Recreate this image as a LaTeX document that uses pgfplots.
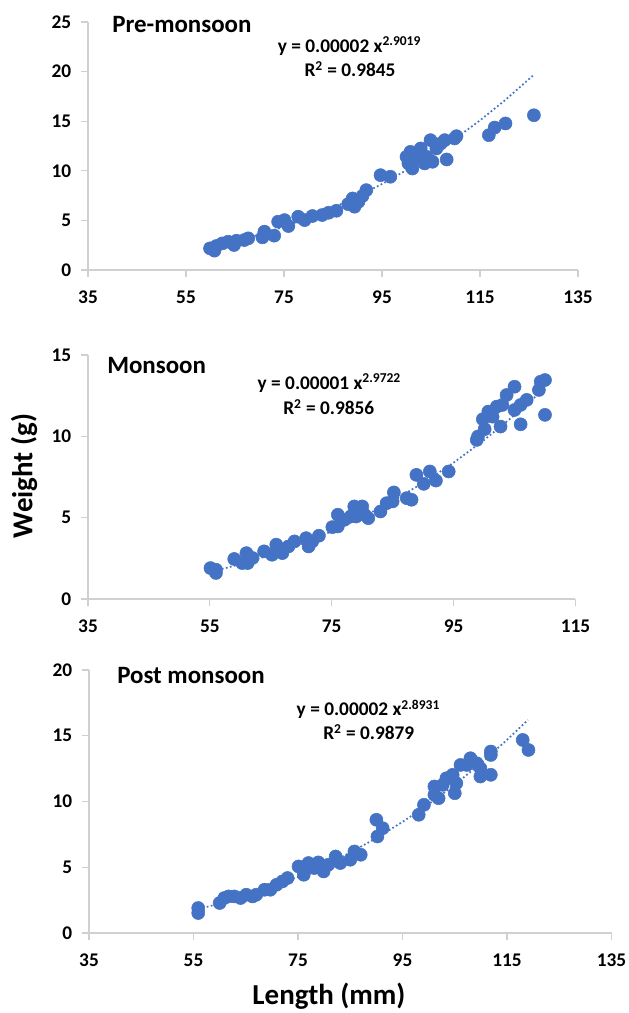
\documentclass[border=0pt]{standalone}
\usepackage{pgfplots}
\pgfplotsset{compat=1.18}
\usepackage{fontspec}
\setmainfont{Carlito}

\definecolor{xlblue}{HTML}{4472C4}
\definecolor{axisgray}{HTML}{D0D0D0}

\pgfplotsset{
  panel/.style={
    scale only axis,
    axis x line*=bottom, axis y line*=left,
    axis line style={-, draw=axisgray, line width=0.8pt},
    every tick/.style={draw=axisgray, line width=0.8pt},
    major tick length=5pt,
    tick align=outside,
    ticklabel style={font=\fontsize{14.5}{16}\selectfont\bfseries},
    xticklabel style={yshift=-7pt},
    yticklabel style={xshift=-4pt},
    /pgf/number format/assume math mode=true,
    xmin=35, ymin=0,
    clip=false,
  },
  pts/.style={only marks, mark=*, mark size=4.9pt,
    mark options={fill=xlblue, draw=xlblue}},
  trend/.style={xlblue, line width=1.3pt, dash pattern=on 1.3pt off 1.8pt, mark=none},
}

\begin{document}
\begin{tikzpicture}
\useasboundingbox (0,0) rectangle (471pt,759.75pt);

% ---------- Pre-monsoon ----------
\begin{axis}[panel, at={(66pt,557.25pt)}, anchor=south west,
  width=367.5pt, height=186pt,
  xmax=135, ymax=25, xtick={35,55,...,135}, ytick={0,5,...,25}]
\addplot[pts] table {
x y
59.9 2.18
60.8 1.95
61.2 2.42
62.4 2.68
63.6 2.85
64.8 2.52
65.3 2.95
66.9 3.02
67.7 3.19
70.6 3.29
71.0 3.86
73.0 3.46
73.8 4.87
75.1 5.03
75.9 4.43
77.9 5.37
79.2 5.03
80.8 5.44
82.8 5.54
84.1 5.77
85.7 5.97
88.1 6.64
89.0 7.21
89.4 6.38
90.2 6.88
91.0 7.45
91.8 8.05
94.7 9.56
96.7 9.40
100.0 11.41
100.4 10.74
100.8 11.91
101.2 10.23
101.6 11.24
102.5 11.74
102.9 12.25
103.7 10.74
104.1 11.41
104.9 13.09
105.3 10.91
106.1 12.25
107.0 12.75
107.8 13.09
108.2 11.14
109.8 13.26
110.2 13.49
116.8 13.59
118.0 14.36
120.2 14.77
126.0 15.60
};
\addplot[trend] table {
x y
60 2.28
65 2.88
70 3.57
75 4.36
80 5.26
85 6.27
90 7.41
95 8.67
100 10.06
105 11.58
110 13.26
115 15.08
120 17.07
126 19.68
};
\end{axis}

% ---------- Monsoon ----------
\begin{axis}[panel, at={(66pt,310.5pt)}, anchor=south west,
  width=365.6pt, height=183pt,
  xmax=115, ymax=15, xtick={35,55,...,115}, ytick={0,5,...,15}]
\addplot[pts] table {
x y
55.1 1.90
56.0 1.80
56.0 1.60
59.0 2.46
60.3 2.21
61.0 2.82
61.2 2.21
62.0 2.52
63.9 2.93
65.2 2.72
65.9 3.34
66.9 2.82
67.9 3.23
68.9 3.54
70.8 3.74
71.2 3.23
71.8 3.54
72.9 3.89
75.1 4.42
76.0 4.46
76.0 5.18
77.1 4.87
78.1 5.07
78.7 5.69
79.0 5.07
80.0 5.69
80.4 5.18
81.0 4.97
83.0 5.38
84.0 5.89
85.0 6.00
85.2 6.55
87.3 6.20
88.1 6.10
88.9 7.63
90.1 7.08
91.1 7.84
92.1 7.28
94.2 7.84
98.8 9.78
99.0 9.99
99.8 11.05
100.1 10.44
100.7 11.52
101.4 11.21
102.1 11.83
102.7 10.60
103.0 11.93
103.7 12.54
105.0 13.05
105.0 11.62
106.0 11.93
106.0 10.74
107.0 12.24
109.0 12.85
109.3 13.36
110.0 13.46
110.0 11.32
};
\addplot[trend] table {
x y
55 1.65
60 2.14
65 2.71
70 3.38
75 4.16
80 5.03
85 6.03
90 7.14
95 8.38
100 9.77
105 11.30
110 12.97
};
\end{axis}

% ---------- Post monsoon ----------
\begin{axis}[panel, at={(66.75pt,60pt)}, anchor=south west,
  width=391.9pt, height=197.25pt,
  xmax=135, ymax=20, xtick={35,55,...,135}, ytick={0,5,...,20}]
\addplot[pts] table {
x y
55.9 1.90
55.9 1.52
60.0 2.28
60.9 2.66
61.7 2.78
62.8 2.78
64.0 2.66
65.1 2.91
66.3 2.78
67.0 2.91
68.6 3.29
69.7 3.29
70.9 3.67
72.0 3.92
73.0 4.18
75.1 5.06
76.1 4.43
77.0 5.32
78.1 4.94
78.9 5.37
79.9 4.68
80.8 5.19
82.2 5.82
83.1 5.32
85.0 5.57
85.8 6.20
87.0 5.95
90.0 8.61
90.2 7.34
91.2 7.97
98.1 8.99
99.1 9.75
101.1 11.14
101.1 10.51
101.9 10.25
102.7 11.27
103.4 11.77
104.6 12.03
105.0 10.63
105.3 11.39
106.1 12.78
107.3 12.78
108.0 13.29
109.2 12.91
109.9 12.53
109.9 11.90
111.9 12.03
111.9 13.54
111.9 13.80
118.0 14.68
119.1 13.92
};
\addplot[trend] table {
x y
56 1.83
60 2.23
65 2.82
70 3.49
75 4.26
80 5.14
85 6.12
90 7.22
95 8.45
100 9.79
105 11.28
110 12.91
115 14.69
119 16.20
};
\end{axis}

% ---------- texts ----------
\begin{scope}[every node/.style={inner sep=0pt}]
\node[anchor=west, font=\fontsize{18.7}{20}\selectfont\bfseries] at (84pt,741.4pt) {Pre-monsoon};
\node[anchor=base, font=\fontsize{14.5}{16}\selectfont\bfseries] at (262.1pt,720.4pt) {y = 0.00002 x\textsuperscript{2.9019}};
\node[anchor=base, font=\fontsize{14.5}{16}\selectfont\bfseries] at (262.5pt,702pt) {R\textsuperscript{2} = 0.9845};

\node[anchor=west, font=\fontsize{18.7}{20}\selectfont\bfseries] at (80.25pt,485.6pt) {Monsoon};
\node[anchor=base, font=\fontsize{14.5}{16}\selectfont\bfseries] at (247pt,467.7pt) {y = 0.00001 x\textsuperscript{2.9722}};
\node[anchor=base, font=\fontsize{14.5}{16}\selectfont\bfseries] at (246.6pt,448.5pt) {R\textsuperscript{2} = 0.9856};

\node[anchor=west, font=\fontsize{18.7}{20}\selectfont\bfseries] at (87.75pt,253.1pt) {Post monsoon};
\node[anchor=base, font=\fontsize{14.5}{16}\selectfont\bfseries] at (276.3pt,222.75pt) {y = 0.00002 x\textsuperscript{2.8931}};
\node[anchor=base, font=\fontsize{14.5}{16}\selectfont\bfseries] at (276.6pt,204.75pt) {R\textsuperscript{2} = 0.9879};

\node[rotate=90, font=\fontsize{21.7}{24}\selectfont\bfseries] at (18pt,402.75pt) {Weight (g)};
\node[anchor=base, font=\fontsize{21.7}{24}\selectfont\bfseries] at (246.75pt,6.5pt) {Length (mm)};
\end{scope}
\end{tikzpicture}
\end{document}
